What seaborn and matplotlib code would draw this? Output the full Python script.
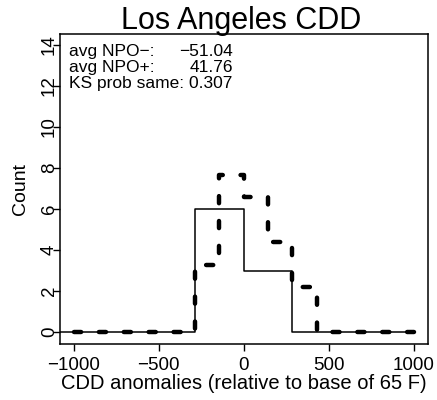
import numpy as np
import pandas as pd
import matplotlib
matplotlib.use("Agg")
import matplotlib.pyplot as plt
import seaborn as sns

# ---- data ----
title = "Los Angeles CDD"
x_label = "CDD anomalies (relative to base of 65 F)"
y_label = "Count"

npo_minus_edges = [-1142.9, -857.1, -571.4, -285.7, 0.0, 285.7, 571.4, 857.1, 1000.0]
npo_minus_counts = [0, 0, 0, 6, 3, 0, 0, 0]

npo_plus_edges = [-1000.0, -857.1, -714.3, -571.4, -428.6, -285.7, -142.9, 0.0,
                  142.9, 285.7, 428.6, 571.4, 714.3, 857.1, 1000.0]
npo_plus_counts = [0, 0, 0, 0, 0, 3.27, 7.66, 6.57, 4.38, 2.19, 0, 0, 0, 0]

x_ticks = [-1000, -500, 0, 500, 1000]
y_ticks = [0, 2, 4, 6, 8, 10, 12, 14]

stat_labels = ["avg NPO\u2212:", "avg NPO+:"]
stat_values = ["\u221251.04", "41.76"]
ks_text = "KS prob same: 0.307"

# ---- style ----
sns.set_style("ticks")
plt.rcParams["font.family"] = ["Liberation Sans", "DejaVu Sans"]
plt.rcParams["axes.unicode_minus"] = True
plt.rcParams["text.color"] = "black"

W, H = 437, 400
fig = plt.figure(figsize=(W / 100, H / 100), dpi=100)
L, R, T, B = 60, 427.6, 33.5, 343.5
ax = fig.add_axes([L / W, 1 - B / H, (R - L) / W, (B - T) / H])

def step_frame(edges, counts):
    return pd.DataFrame({"x": edges, "y": list(counts) + [counts[-1]]})

dm = step_frame(npo_minus_edges, npo_minus_counts)
dp = step_frame(npo_plus_edges, npo_plus_counts)

sns.lineplot(data=dm, x="x", y="y", ax=ax, drawstyle="steps-post",
             color="black", linewidth=1.1, estimator=None, sort=False)
sns.lineplot(data=dp, x="x", y="y", ax=ax, drawstyle="steps-post",
             color="black", linewidth=3.2, estimator=None, sort=False,
             linestyle=(0, (1.6, 4.0)), dash_capstyle="round")

ax.set_xlim(-1080, 1080)
ax.set_ylim(-0.56, 14.56)
ax.set_xticks(x_ticks)
ax.set_yticks(y_ticks)
ax.set_xlabel("")
ax.set_ylabel("")

for s in ax.spines.values():
    s.set_visible(True)
    s.set_color("black")
    s.set_linewidth(1.1)

ax.tick_params(axis="both", direction="out", length=5, width=1.0,
               color="black", labelsize=13.5, labelcolor="black",
               bottom=True, left=True, top=False, right=False)
ax.tick_params(axis="x", pad=5)
ax.tick_params(axis="y", pad=-3.5)
for lab in ax.get_yticklabels():
    lab.set_rotation(90)
    lab.set_va("center")
    lab.set_ha("right")

fig.text(241 / W, 1 - 29 / H, title, ha="center", va="baseline", fontsize=22, color="black")
fig.text(243.5 / W, 1 - 389 / H, x_label, ha="center", va="baseline", fontsize=14.5, color="black")
fig.text(21 / W, 1 - 189 / H, y_label, ha="center", va="center", rotation=90, fontsize=14, color="black")

lines_y = [56, 72]
for lab, val, yy in zip(stat_labels, stat_values, lines_y):
    fig.text(69 / W, 1 - yy / H, lab, ha="left", va="baseline", fontsize=12.5, color="black")
    fig.text(233 / W, 1 - yy / H, val, ha="right", va="baseline", fontsize=12.5, color="black")
fig.text(69 / W, 1 - 88 / H, ks_text, ha="left", va="baseline", fontsize=12.5, color="black")

fig.savefig("out.png", dpi=100)
